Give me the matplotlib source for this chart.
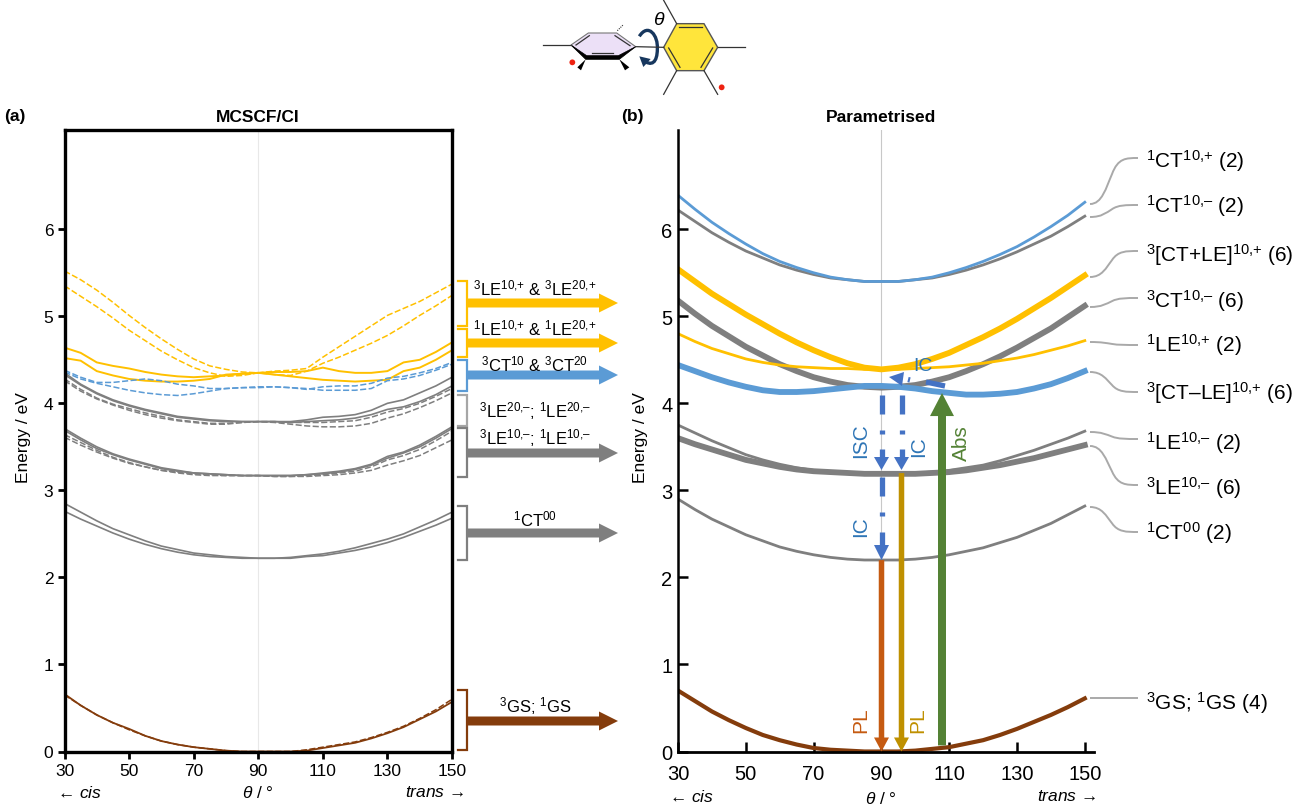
import numpy as np
import matplotlib
matplotlib.use('Agg')
import matplotlib.pyplot as plt
from matplotlib.patches import PathPatch, Polygon, Circle, FancyArrow
from matplotlib.path import Path

plt.rcParams['font.family'] = ['Liberation Sans', 'DejaVu Sans']
plt.rcParams['mathtext.fontset'] = 'custom'
plt.rcParams['mathtext.rm'] = 'Liberation Sans'
plt.rcParams['mathtext.it'] = 'Liberation Sans:italic'
plt.rcParams['mathtext.bf'] = 'Liberation Sans:bold'
plt.rcParams['mathtext.default'] = 'regular'

yellow = '#ffc000'
blue = '#5b9bd5'
gray = '#7f7f7f'
brown = '#843c0c'

theta = list(range(30, 155, 5))

# (a) MCSCF/CI
a_yellow_dash1 = [5.52, 5.42, 5.30, 5.16, 5.01, 4.87, 4.74, 4.62, 4.51, 4.43, 4.39, 4.36, 4.35, 4.37, 4.38, 4.40, 4.53, 4.65, 4.77, 4.89, 5.01, 5.09, 5.17, 5.27, 5.37]
a_yellow_dash2 = [5.35, 5.23, 5.11, 4.98, 4.84, 4.72, 4.60, 4.50, 4.41, 4.35, 4.31, 4.32, 4.35, 4.33, 4.32, 4.37, 4.46, 4.53, 4.61, 4.69, 4.78, 4.89, 5.01, 5.12, 5.24]
a_yellow_sol1 = [4.64, 4.58, 4.47, 4.43, 4.40, 4.36, 4.33, 4.31, 4.30, 4.31, 4.32, 4.34, 4.35, 4.36, 4.36, 4.37, 4.41, 4.37, 4.35, 4.35, 4.37, 4.47, 4.50, 4.59, 4.70]
a_yellow_sol2 = [4.52, 4.49, 4.37, 4.32, 4.28, 4.26, 4.25, 4.25, 4.26, 4.28, 4.33, 4.34, 4.35, 4.33, 4.31, 4.29, 4.27, 4.26, 4.25, 4.26, 4.27, 4.37, 4.41, 4.50, 4.61]
a_blue1 = [4.38, 4.30, 4.24, 4.24, 4.26, 4.28, 4.26, 4.22, 4.20, 4.17, 4.17, 4.18, 4.18, 4.19, 4.18, 4.16, 4.19, 4.20, 4.20, 4.23, 4.29, 4.31, 4.35, 4.40, 4.47]
a_blue2 = [4.36, 4.28, 4.23, 4.19, 4.15, 4.12, 4.10, 4.09, 4.11, 4.14, 4.17, 4.18, 4.19, 4.19, 4.18, 4.17, 4.15, 4.15, 4.15, 4.17, 4.26, 4.28, 4.32, 4.38, 4.45]
a_le20_1 = [4.35, 4.22, 4.12, 4.04, 3.98, 3.93, 3.89, 3.85, 3.83, 3.81, 3.80, 3.79, 3.79, 3.79, 3.79, 3.81, 3.84, 3.85, 3.87, 3.92, 4.00, 4.04, 4.12, 4.20, 4.30]
a_le20_2 = [4.33, 4.21, 4.11, 4.03, 3.97, 3.92, 3.88, 3.84, 3.82, 3.80, 3.79, 3.79, 3.79, 3.79, 3.78, 3.79, 3.80, 3.81, 3.83, 3.87, 3.93, 3.96, 4.02, 4.10, 4.20]
a_le20_3 = [4.28, 4.16, 4.06, 3.99, 3.94, 3.89, 3.85, 3.81, 3.79, 3.77, 3.77, 3.78, 3.79, 3.79, 3.78, 3.78, 3.78, 3.79, 3.80, 3.84, 3.90, 3.94, 4.00, 4.08, 4.17]
a_le20_4 = [4.26, 4.14, 4.05, 3.98, 3.92, 3.87, 3.83, 3.80, 3.78, 3.76, 3.76, 3.78, 3.79, 3.78, 3.76, 3.74, 3.73, 3.73, 3.74, 3.77, 3.83, 3.88, 3.95, 4.03, 4.12]
a_le10_1 = [3.71, 3.60, 3.50, 3.42, 3.36, 3.31, 3.26, 3.23, 3.20, 3.19, 3.18, 3.17, 3.17, 3.17, 3.17, 3.18, 3.20, 3.22, 3.25, 3.30, 3.39, 3.44, 3.52, 3.62, 3.73]
a_le10_2 = [3.69, 3.58, 3.48, 3.41, 3.35, 3.30, 3.25, 3.22, 3.20, 3.19, 3.18, 3.17, 3.17, 3.17, 3.17, 3.18, 3.19, 3.21, 3.24, 3.29, 3.37, 3.43, 3.50, 3.60, 3.71]
a_le10_3 = [3.64, 3.55, 3.46, 3.38, 3.32, 3.27, 3.23, 3.21, 3.19, 3.18, 3.17, 3.17, 3.17, 3.16, 3.16, 3.17, 3.18, 3.20, 3.22, 3.27, 3.35, 3.40, 3.47, 3.57, 3.68]
a_le10_4 = [3.61, 3.52, 3.44, 3.37, 3.31, 3.27, 3.23, 3.20, 3.18, 3.17, 3.17, 3.17, 3.17, 3.16, 3.16, 3.16, 3.17, 3.18, 3.20, 3.23, 3.29, 3.34, 3.40, 3.49, 3.58]
a_ct00_1 = [2.85, 2.75, 2.65, 2.56, 2.49, 2.42, 2.36, 2.32, 2.28, 2.26, 2.24, 2.23, 2.22, 2.22, 2.23, 2.25, 2.27, 2.30, 2.34, 2.39, 2.44, 2.50, 2.58, 2.66, 2.75]
a_ct00_2 = [2.76, 2.67, 2.59, 2.51, 2.44, 2.38, 2.33, 2.29, 2.26, 2.24, 2.23, 2.22, 2.22, 2.22, 2.22, 2.24, 2.25, 2.28, 2.31, 2.35, 2.40, 2.46, 2.53, 2.60, 2.68]
a_gs_1 = [0.66, 0.53, 0.42, 0.33, 0.26, 0.18, 0.12, 0.08, 0.05, 0.03, 0.01, 0.00, 0.00, 0.00, 0.00, 0.01, 0.04, 0.07, 0.10, 0.15, 0.21, 0.28, 0.37, 0.46, 0.57]
a_gs_2 = [0.65, 0.53, 0.42, 0.33, 0.25, 0.18, 0.12, 0.08, 0.05, 0.03, 0.01, 0.00, 0.00, 0.00, 0.00, 0.02, 0.05, 0.08, 0.11, 0.16, 0.22, 0.29, 0.38, 0.48, 0.60]

# (b) Parametrised
b_ct_plus = [6.39, 6.23, 6.08, 5.95, 5.83, 5.72, 5.63, 5.56, 5.50, 5.45, 5.42, 5.40, 5.40, 5.40, 5.42, 5.45, 5.50, 5.56, 5.63, 5.71, 5.80, 5.91, 6.03, 6.16, 6.31]
b_ct_minus = [6.22, 6.09, 5.96, 5.85, 5.75, 5.67, 5.59, 5.53, 5.48, 5.44, 5.42, 5.40, 5.40, 5.40, 5.42, 5.44, 5.48, 5.53, 5.59, 5.66, 5.74, 5.83, 5.92, 6.03, 6.15]
b_mix_plus = [5.54, 5.40, 5.26, 5.14, 5.02, 4.91, 4.80, 4.70, 4.61, 4.53, 4.46, 4.41, 4.39, 4.41, 4.45, 4.51, 4.58, 4.67, 4.76, 4.86, 4.97, 5.09, 5.21, 5.34, 5.47]
b_3ct_minus = [5.18, 5.03, 4.89, 4.77, 4.65, 4.55, 4.45, 4.37, 4.30, 4.25, 4.21, 4.19, 4.18, 4.19, 4.21, 4.25, 4.30, 4.37, 4.45, 4.54, 4.64, 4.75, 4.86, 4.99, 5.12]
b_1le_plus = [4.80, 4.71, 4.63, 4.57, 4.51, 4.47, 4.44, 4.42, 4.41, 4.40, 4.40, 4.39, 4.39, 4.39, 4.40, 4.41, 4.42, 4.44, 4.46, 4.49, 4.52, 4.56, 4.61, 4.66, 4.72]
b_mix_minus = [4.44, 4.37, 4.30, 4.24, 4.19, 4.15, 4.13, 4.13, 4.14, 4.16, 4.18, 4.20, 4.20, 4.19, 4.17, 4.14, 4.12, 4.10, 4.10, 4.11, 4.13, 4.17, 4.22, 4.29, 4.37]
b_1le_minus = [3.75, 3.66, 3.57, 3.49, 3.41, 3.35, 3.30, 3.26, 3.23, 3.21, 3.20, 3.19, 3.19, 3.19, 3.20, 3.21, 3.23, 3.26, 3.29, 3.34, 3.40, 3.46, 3.53, 3.60, 3.68]
b_3le_minus = [3.60, 3.53, 3.47, 3.41, 3.35, 3.31, 3.27, 3.24, 3.22, 3.21, 3.20, 3.19, 3.19, 3.19, 3.19, 3.20, 3.21, 3.23, 3.26, 3.29, 3.33, 3.37, 3.42, 3.47, 3.52]
b_ct00 = [2.90, 2.78, 2.67, 2.58, 2.49, 2.42, 2.35, 2.30, 2.26, 2.23, 2.21, 2.20, 2.20, 2.20, 2.21, 2.23, 2.26, 2.30, 2.34, 2.40, 2.46, 2.54, 2.62, 2.72, 2.82]
b_gs = [0.70, 0.58, 0.46, 0.36, 0.27, 0.19, 0.13, 0.08, 0.04, 0.02, 0.01, 0.00, 0.00, 0.00, 0.01, 0.03, 0.05, 0.09, 0.13, 0.19, 0.26, 0.34, 0.42, 0.51, 0.61]

x_ticks = [30, 50, 70, 90, 110, 130, 150]
y_ticks = [0, 1, 2, 3, 4, 5, 6]

W, H = 1313, 812
fig = plt.figure(figsize=(W / 100, H / 100), dpi=100)


def px_axes(left, top, right, bottom):
    return fig.add_axes([left / W, 1 - bottom / H, (right - left) / W, (bottom - top) / H])


ax_a = px_axes(64.5, 131, 452, 752.5)
ax_b = px_axes(678, 131, 1094, 752.5)
over = fig.add_axes([0, 0, 1, 1], zorder=5)
over.set_xlim(0, W)
over.set_ylim(H, 0)
over.axis('off')

dash = (0, (4, 1.6))

# panel a
ax_a.set_xlim(30, 150)
ax_a.set_ylim(0, 7.14)
ax_a.axvline(90, color='#e8e8e8', lw=0.8, zorder=0)
for y in [a_yellow_dash1, a_yellow_dash2]:
    ax_a.plot(theta, y, color=yellow, lw=1.1, ls=dash)
for y in [a_yellow_sol1, a_yellow_sol2]:
    ax_a.plot(theta, y, color=yellow, lw=1.4)
for y in [a_blue1, a_blue2]:
    ax_a.plot(theta, y, color=blue, lw=1.1, ls=dash)
for y in [a_le20_1, a_le20_2, a_le10_1, a_le10_2, a_ct00_1, a_ct00_2]:
    ax_a.plot(theta, y, color=gray, lw=1.2)
for y in [a_le20_3, a_le20_4, a_le10_3, a_le10_4]:
    ax_a.plot(theta, y, color=gray, lw=1.1, ls=dash)
ax_a.plot(theta, a_gs_1, color=brown, lw=1.3)
ax_a.plot(theta, a_gs_2, color=brown, lw=1.1, ls=dash)
for s in ax_a.spines.values():
    s.set_linewidth(2.4)
ax_a.tick_params(axis='both', width=2, length=5, direction='out', labelsize=12.5, pad=3)
ax_a.set_xticks(x_ticks)
ax_a.set_yticks(y_ticks)

# panel b
ax_b.set_xlim(30, 30 + (1094 - 678) / 3.39)
ax_b.set_ylim(0, 7.14)
ax_b.axvline(90, color='#c8c8c8', lw=0.8, zorder=0)
ax_b.plot(theta, b_ct_minus, color=gray, lw=2)
ax_b.plot(theta, b_ct_plus, color=blue, lw=2)
ax_b.plot(theta, b_3ct_minus, color=gray, lw=4.2)
ax_b.plot(theta, b_mix_plus, color=yellow, lw=4.2)
ax_b.plot(theta, b_1le_plus, color=yellow, lw=2)
ax_b.plot(theta, b_mix_minus, color=blue, lw=4.2)
ax_b.plot(theta, b_1le_minus, color=gray, lw=2)
ax_b.plot(theta, b_3le_minus, color=gray, lw=4.2)
ax_b.plot(theta, b_ct00, color=gray, lw=2)
ax_b.plot(theta, b_gs, color=brown, lw=3)
ax_b.spines['top'].set_visible(False)
ax_b.spines['right'].set_visible(False)
ax_b.spines['left'].set_linewidth(1.8)
ax_b.spines['bottom'].set_linewidth(2)
ax_b.tick_params(axis='both', width=1.8, length=7, direction='in', labelsize=14.5)
ax_b.tick_params(axis='x', pad=9)
ax_b.tick_params(axis='y', pad=4)
ax_b.set_xticks(x_ticks)
ax_b.set_yticks(y_ticks)

# titles and axis captions
over.text(4, 117, '(a)', fontsize=12.5, fontweight='bold', va='center')
over.text(258, 117, 'MCSCF/CI', fontsize=12.5, fontweight='bold', va='center', ha='center')
over.text(621, 117, '(b)', fontsize=12.5, fontweight='bold', va='center')
over.text(881, 117, 'Parametrised', fontsize=12.5, fontweight='bold', va='center', ha='center')
over.text(24, 438, 'Energy / eV', fontsize=12.5, rotation=90, va='center', ha='center')
over.text(641, 438, 'Energy / eV', fontsize=12.5, rotation=90, va='center', ha='center')
over.text(57, 793, '\u2190 $\\mathit{cis}$', fontsize=12.5, va='center')
over.text(258, 793, '$\\mathit{\u03b8}$ / \u00b0', fontsize=12.5, va='center', ha='center')
over.text(464, 793, '$\\mathit{trans}$ \u2192', fontsize=12.5, va='center', ha='right')
over.text(669, 797, '\u2190 $\\mathit{cis}$', fontsize=12.5, va='center')
over.text(881, 799, '$\\mathit{\u03b8}$ / \u00b0', fontsize=12.5, va='center', ha='center')
over.text(1096, 797, '$\\mathit{trans}$ \u2192', fontsize=12.5, va='center', ha='right')

# brackets and block arrows between the panels
brackets = [
    (282, 327, yellow, 304),
    (330, 358, yellow, 344),
    (361, 392, blue, 376),
    (396, 427, '#a6a6a6', None),
    (429, 478, gray, 454),
    (507, 561, gray, 534),
    (691, 751, brown, 722),
]
for top, bot, col, arrow_y in brackets:
    over.plot([458, 467, 467, 458], [top, top, bot, bot], color=col, lw=1.6, solid_joinstyle='miter')
    if arrow_y is not None:
        over.add_patch(FancyArrow(467, arrow_y, 151, 0, width=9, head_width=19, head_length=19,
                                  length_includes_head=True, color=col, lw=0))

mid_labels = [
    (288, '$^{3}$LE$^{10{,}{+}}$ & $^{3}$LE$^{20{,}{+}}$'),
    (328, '$^{1}$LE$^{10{,}{+}}$ & $^{1}$LE$^{20{,}{+}}$'),
    (364, '$^{3}$CT$^{10}$ & $^{3}$CT$^{20}$'),
    (411, '$^{3}$LE$^{20{,}\u2013}$; $^{1}$LE$^{20{,}\u2013}$'),
    (438, '$^{3}$LE$^{10{,}\u2013}$; $^{1}$LE$^{10{,}\u2013}$'),
    (519, '$^{1}$CT$^{00}$'),
    (706, '$^{3}$GS; $^{1}$GS'),
]
for y, s in mid_labels:
    over.text(535, y, s, fontsize=12, ha='center', va='center')

# state labels and connectors on the right
state_labels = [
    (205, 159, 161, '$^{1}$CT$^{10{,}{+}}$ (2)'),
    (218, 206, 206, '$^{1}$CT$^{10{,}\u2013}$ (2)'),
    (278, 252, 255, '$^{3}$[CT+LE]$^{10{,}{+}}$ (6)'),
    (308, 299, 301, '$^{3}$CT$^{10{,}\u2013}$ (6)'),
    (343, 346, 345, '$^{1}$LE$^{10{,}{+}}$ (2)'),
    (373, 393, 393, '$^{3}$[CT\u2013LE]$^{10{,}{+}}$ (6)'),
    (433, 440, 443, '$^{1}$LE$^{10{,}\u2013}$ (2)'),
    (447, 486, 488, '$^{3}$LE$^{10{,}\u2013}$ (6)'),
    (508, 533, 533, '$^{1}$CT$^{00}$ (2)'),
    (699, 699, 703, '$^{3}$GS; $^{1}$GS (4)'),
]
for y0, y1, y_text, s in state_labels:
    verts = [(1090, y0), (1102, y0), (1106, y0 + 0.35 * (y1 - y0)), (1112, y0 + 0.65 * (y1 - y0)),
             (1118, y1), (1126, y1), (1138, y1)]
    codes = [Path.MOVETO] + [Path.CURVE4] * 6
    over.add_patch(PathPatch(Path(verts, codes), fc='none', ec='#a9a9a9', lw=1.4))
    over.text(1146, y_text, s, fontsize=15, va='center')

# transitions
ic_blue = '#4472c4'
ic_text = '#2e75b6'
e2y = lambda e: 752.5 - 87 * e


def down_arrow(x, e_top, e_tip, col, lw, head_w=15, head_l=14):
    y_top, y_tip = e2y(e_top), e2y(e_tip)
    over.add_patch(FancyArrow(x, y_top, 0, y_tip - y_top, width=lw, head_width=head_w, head_length=head_l,
                              length_includes_head=True, color=col, lw=0))


down_arrow(881.5, 2.2, 0, '#c55a11', 5.5)
down_arrow(901.5, 3.2, 0, '#bf9000', 5.5)
over.add_patch(FancyArrow(942, e2y(0.07), 0, e2y(4.12) - e2y(0.07), width=8, head_width=24, head_length=23,
                          length_includes_head=True, color='#548235', lw=0))

for x in [881.5, 901.5]:
    over.plot([x, x], [396, 415], color=ic_blue, lw=3.8, solid_capstyle='butt')
    over.plot([x, x], [431, 435], color=ic_blue, lw=3.8, solid_capstyle='butt')
    over.plot([x, x], [450, 460], color=ic_blue, lw=3.8, solid_capstyle='butt')
    over.add_patch(Polygon([(x - 7.5, 458), (x + 7.5, 458), (x, 471)], color=ic_blue, lw=0))
x = 881.5
over.plot([x, x], [478, 497], color=ic_blue, lw=3.8, solid_capstyle='butt')
over.plot([x, x], [513, 517], color=ic_blue, lw=3.8, solid_capstyle='butt')
over.plot([x, x], [533, 548], color=ic_blue, lw=3.8, solid_capstyle='butt')
over.add_patch(Polygon([(x - 7.5, 546), (x + 7.5, 546), (x, 561)], color=ic_blue, lw=0))
# the sideways IC step
over.add_patch(Polygon([(889, 378), (904, 373), (902, 387)], color=ic_blue, lw=0))
over.plot([908, 910], [380.5, 381], color=ic_blue, lw=3.8, solid_capstyle='butt')
over.plot([926, 945], [383, 387], color=ic_blue, lw=3.8, solid_capstyle='butt')

over.text(861, 441, 'ISC', fontsize=15, color=ic_text, rotation=90, ha='center', va='center')
over.text(919, 447, 'IC', fontsize=15, color=ic_text, rotation=90, ha='center', va='center')
over.text(861, 527, 'IC', fontsize=15, color=ic_text, rotation=90, ha='center', va='center')
over.text(923, 367, 'IC', fontsize=14, color=ic_text, ha='center', va='center')
over.text(961, 443, 'Abs', fontsize=15, color='#548235', rotation=90, ha='center', va='center')
over.text(861, 720, 'PL', fontsize=15, color='#c55a11', rotation=90, ha='center', va='center')
over.text(918, 720, 'PL', fontsize=15, color='#bf9000', rotation=90, ha='center', va='center')

# molecule sketch at the top
mx = lambda v: 520 + v / 3
my = lambda v: v / 3


def mp(points):
    return [(mx(a), my(b)) for a, b in points]


over.add_patch(Polygon(mp([(153, 138), (205, 102), (290, 102), (347, 143), (295, 178), (200, 178)]),
                       fc='#ece0f7', ec='#777777', lw=0.8))
over.add_patch(Polygon(mp([(153, 138), (200, 170), (295, 170), (347, 143), (298, 181), (197, 181)]),
                       fc='black', ec='black', lw=0.5))
over.add_patch(Polygon(mp([(431, 145), (470, 74), (552, 74), (593, 145), (552, 215), (470, 215)]),
                       fc='#ffe53b', ec='#555555', lw=1))
molecule_bonds = [
    [(70, 138), (153, 138)], [(347, 143), (431, 145)], [(470, 74), (431, 4)], [(593, 145), (675, 145)],
    [(470, 215), (431, 286)], [(552, 215), (593, 286)], [(478, 85), (545, 85)], [(446, 147), (480, 205)],
    [(578, 147), (543, 205)], [(215, 163), (280, 163)], [(168, 138), (208, 110)], [(285, 110), (330, 140)],
]
for seg in molecule_bonds:
    pts = mp(seg)
    over.plot([pts[0][0], pts[1][0]], [pts[0][1], pts[1][1]], color='#333333', lw=0.9)
over.add_patch(Polygon(mp([(197, 181), (172, 205), (183, 214)]), fc='black', lw=0))
over.add_patch(Polygon(mp([(298, 181), (328, 205), (315, 214)]), fc='black', lw=0))
over.plot([mx(292), mx(310)], [my(95), my(77)], color='#333333', lw=0.8, ls=(0, (1, 1)))
over.add_patch(Circle((mx(157), my(190)), 2.9, color='#ee2211', lw=0))
over.add_patch(Circle((mx(605), my(265)), 2.9, color='#ee2211', lw=0))
arc = mp([(358, 112), (385, 70), (415, 110), (412, 150), (412, 190), (395, 205), (368, 182)])
over.add_patch(PathPatch(Path(arc, [Path.MOVETO] + [Path.CURVE4] * 6), fc='none', ec='#17375e', lw=2.4))
over.add_patch(Polygon(mp([(358, 172), (392, 180), (370, 204)]), fc='#17375e', lw=0))
over.text(mx(418), my(62), '$\\mathit{\u03b8}$', fontsize=14, ha='center', va='center')

fig.savefig('out.png', dpi=100)
